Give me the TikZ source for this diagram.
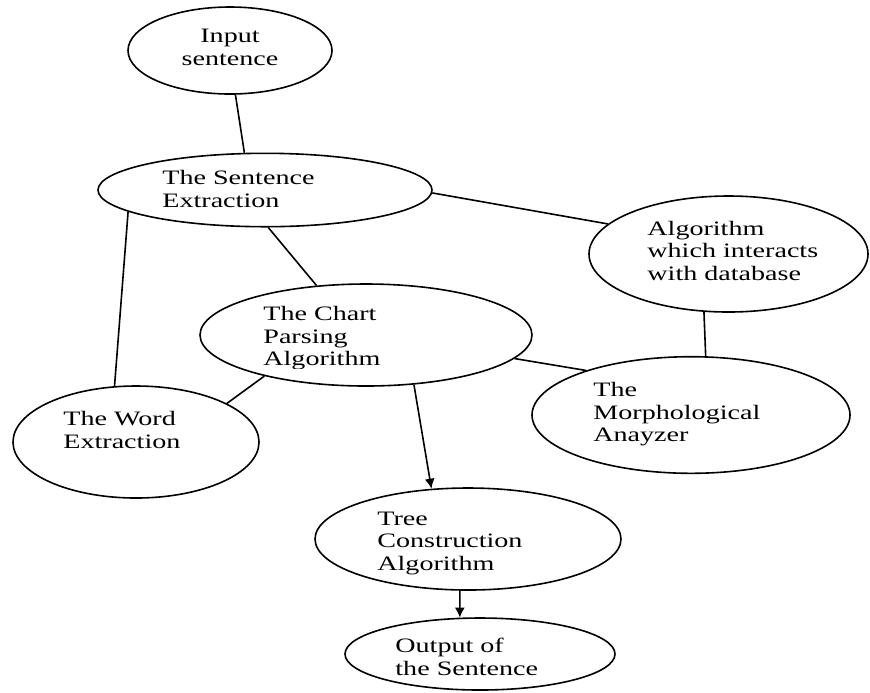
\documentclass[tikz,border=0pt]{standalone}
\usepackage{fontspec}
\setmainfont{Liberation Serif}[FakeStretch=1.37]
\usetikzlibrary{shapes.geometric,arrows.meta}
\begin{document}
\begin{tikzpicture}[x=0.5pt,y=-0.5pt,
  oval/.style={draw, ellipse, line width=0.8pt, inner sep=0pt},
  lbl/.style={font=\fontsize{10.25pt}{11.25pt}\selectfont, inner sep=0pt,
              align=left, anchor=base west},
  link/.style={line width=0.8pt},
  flow/.style={line width=0.8pt, -{Latex[length=5pt,width=5pt]}}]
\path[use as bounding box, fill=white] (0,0) rectangle (870,692);

% process ovals (sizes are full width / height in pt)
\node[oval, minimum width=102pt, minimum height=43.5pt] (input)  at (230,50.5) {};
\node[oval, minimum width=167pt, minimum height=36.7pt] (se)     at (265,190)  {};
\node[oval, minimum width=139.5pt, minimum height=58pt] (alg)    at (728.5,254) {};
\node[oval, minimum width=166pt, minimum height=51pt]   (chart)  at (366,335)  {};
\node[oval, minimum width=123pt, minimum height=56pt]   (word)   at (136,442)  {};
\node[oval, minimum width=159pt, minimum height=58.3pt] (morph)  at (691,415)  {};
\node[oval, minimum width=153pt, minimum height=51pt]   (tree)   at (468,539)  {};
\node[oval, minimum width=135pt, minimum height=36pt]   (output) at (480,654)  {};

% labels, each placed by the baseline of its last line
\node[lbl, anchor=base, align=center] (input-t) at (230,65) {Input\\sentence};
\node[lbl] (se-t)    at (162,207.3) {The Sentence\\Extraction};
\node[lbl] (alg-t)   at (647,280)   {Algorithm\\which interacts\\with database};
\begin{scope}
  \clip (250,290) rectangle (420,368);
  \node[lbl] (chart-t) at (263,365.7) {The Chart\\Parsing\\Algorithm};
\end{scope}
\node[lbl] (word-t)  at (63,448)    {The Word\\Extraction};
\node[lbl] (morph-t) at (593,441.7) {The\\Morphological\\Anayzer};
\node[lbl] (tree-t)  at (377,570)   {Tree\\Construction\\Algorithm};
\node[lbl] (out-t)   at (395,675)   {Output of\\the Sentence};

% connectors
\draw[link] (input.277.9) -- (se.119.4);
\draw[link] (se.-1.7)     -- (alg.166.8);
\draw[link] (se.275)      -- (chart.135.6);
\draw[link] (se.189.3)    -- (word.111.6);
\draw[link] (alg.247.9)   -- (morph.76.4);
\draw[link] (chart.351.9) -- (morph.157.4);
\draw[link] (chart.202.1) -- (word.23.35);
\draw[flow] (chart.314.8) -- (tree.126.9);
\draw[flow] (tree.261.1)  -- (output.119.1);
\end{tikzpicture}
\end{document}
